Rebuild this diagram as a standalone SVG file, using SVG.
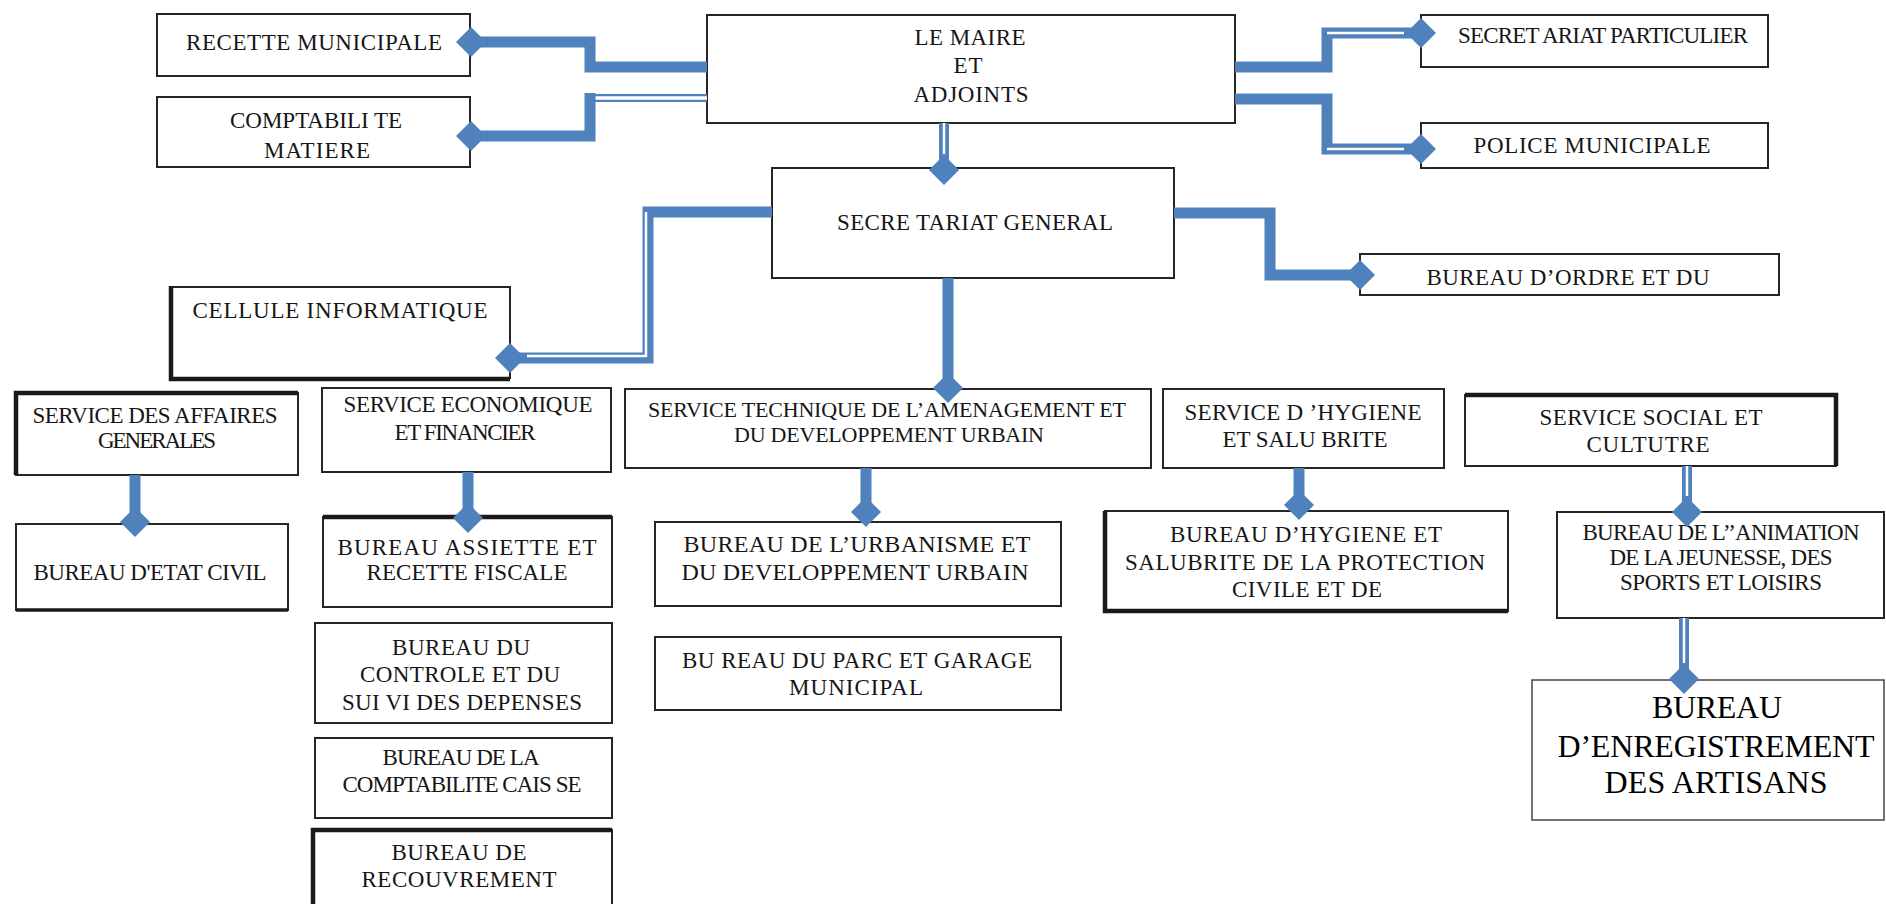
<svg xmlns="http://www.w3.org/2000/svg" width="1886" height="904" viewBox="0 0 1886 904">
<style>
.box{fill:#fff;stroke:#262626;stroke-width:2}
.edge{stroke:#1a1a1a;stroke-width:4.5;fill:none}
.t{font-family:"Liberation Serif","Times New Roman",serif;font-size:23px;fill:#161616;text-anchor:middle;lengthAdjust:spacing}
.big{font-size:32px;fill:#000}
.thick{fill:none;stroke:#4F81BD;stroke-width:11;stroke-linejoin:miter}
.dbl{fill:none;stroke:#4F81BD;stroke-width:10}
.dblw{fill:none;stroke:#fff;stroke-width:2.5}
</style>
<defs>
<marker id="dia" markerUnits="userSpaceOnUse" viewBox="-16 -16 32 32" refX="0" refY="0" markerWidth="32" markerHeight="32" orient="auto">
<path d="M0,-15 L15,0 L0,15 L-15,0 Z" fill="#4F81BD"/>
</marker>
</defs>
<rect width="1886" height="904" fill="#fff"/>

<g id="recette">
<rect class="box" x="157" y="14" width="313" height="62"/>
<text class="t" x="314" y="50" textLength="256">RECETTE MUNICIPALE</text>
</g>
<g id="comptabilite">
<rect class="box" x="157" y="97" width="313" height="70"/>
<text class="t" x="316" y="128" textLength="172">COMPTABILI TE</text>
<text class="t" x="317" y="158" textLength="106">MATIERE</text>
</g>
<g id="maire">
<rect class="box" x="707" y="15" width="528" height="108"/>
<text class="t" x="970" y="45" textLength="111">LE MAIRE</text>
<text class="t" x="968" y="73" textLength="29">ET</text>
<text class="t" x="971" y="102" textLength="115">ADJOINTS</text>
</g>
<g id="secretariat-particulier">
<rect class="box" x="1421" y="15" width="347" height="52"/>
<text class="t" x="1603" y="43" textLength="290">SECRET ARIAT PARTICULIER</text>
</g>
<g id="police">
<rect class="box" x="1421" y="123" width="347" height="45"/>
<text class="t" x="1592" y="153" textLength="237">POLICE MUNICIPALE</text>
</g>
<g id="secretariat-general">
<rect class="box" x="772" y="168" width="402" height="110"/>
<text class="t" x="975" y="230" textLength="276">SECRE TARIAT GENERAL</text>
</g>
<g id="bureau-ordre">
<rect class="box" x="1360" y="254" width="419" height="41"/>
<text class="t" x="1568" y="285" textLength="283">BUREAU D’ORDRE ET DU</text>
</g>
<g id="cellule">
<rect class="box" x="170" y="287" width="340" height="91"/>
<path class="edge" d="M171,286 V379 H510"/>
<text class="t" x="340" y="318" textLength="295">CELLULE INFORMATIQUE</text>
</g>
<g id="affaires-generales">
<rect class="box" x="16" y="393" width="282" height="82"/>
<path class="edge" d="M16,475 V393 H298"/>
<text class="t" x="155" y="423" textLength="245">SERVICE DES AFFAIRES</text>
<text class="t" x="157" y="448" textLength="118">GENERALES</text>
</g>
<g id="economique">
<rect class="box" x="322" y="388" width="289" height="84"/>
<text class="t" x="468" y="412" textLength="249">SERVICE ECONOMIQUE</text>
<text class="t" x="465" y="440" textLength="141">ET FINANCIER</text>
</g>
<g id="technique">
<rect class="box" x="625" y="389" width="526" height="79"/>
<text class="t" style="font-size:22px" x="887" y="417" textLength="478">SERVICE TECHNIQUE DE L’AMENAGEMENT ET</text>
<text class="t" style="font-size:22px" x="889" y="442" textLength="310">DU DEVELOPPEMENT URBAIN</text>
</g>
<g id="hygiene">
<rect class="box" x="1163" y="389" width="281" height="79"/>
<text class="t" x="1303" y="420" textLength="237">SERVICE D ’HYGIENE</text>
<text class="t" x="1305" y="447" textLength="165">ET SALU BRITE</text>
</g>
<g id="social">
<rect class="box" x="1465" y="395" width="371" height="71"/>
<path class="edge" d="M1465,395 H1836 V466"/>
<text class="t" x="1651" y="425" textLength="223">SERVICE SOCIAL ET</text>
<text class="t" x="1648" y="452" textLength="123">CULTUTRE</text>
</g>
<g id="etat-civil">
<rect class="box" x="16" y="524" width="272" height="86"/>
<path class="edge" style="stroke-width:3.5" d="M16,610 H288"/>
<text class="t" x="150" y="580" textLength="233">BUREAU D'ETAT CIVIL</text>
</g>
<g id="assiette">
<rect class="box" x="323" y="517" width="289" height="90"/>
<path class="edge" d="M323,517 H612"/>
<text class="t" x="467" y="555" textLength="259">BUREAU ASSIETTE ET</text>
<text class="t" x="467" y="580" textLength="201">RECETTE FISCALE</text>
</g>
<g id="controle">
<rect class="box" x="315" y="623" width="297" height="100"/>
<text class="t" x="461" y="655" textLength="138">BUREAU DU</text>
<text class="t" x="460" y="682" textLength="200">CONTROLE ET DU</text>
<text class="t" x="462" y="710" textLength="240">SUI VI DES DEPENSES</text>
</g>
<g id="caisse">
<rect class="box" x="315" y="738" width="297" height="80"/>
<text class="t" x="461" y="765" textLength="157">BUREAU DE LA</text>
<text class="t" x="462" y="792" textLength="239">COMPTABILITE CAIS SE</text>
</g>
<g id="recouvrement">
<rect class="box" x="313" y="830" width="299" height="84"/>
<path class="edge" d="M313,908 V830 H612"/>
<text class="t" x="459" y="860" textLength="135">BUREAU DE</text>
<text class="t" x="459" y="887" textLength="195">RECOUVREMENT</text>
</g>
<g id="urbanisme">
<rect class="box" x="655" y="522" width="406" height="84"/>
<text class="t" style="font-size:24px" x="857" y="552" textLength="347">BUREAU DE L’URBANISME ET</text>
<text class="t" style="font-size:24px" x="855" y="580" textLength="347">DU DEVELOPPEMENT URBAIN</text>
</g>
<g id="parc">
<rect class="box" x="655" y="637" width="406" height="73"/>
<text class="t" x="857" y="668" textLength="350">BU REAU DU PARC ET GARAGE</text>
<text class="t" x="856" y="695" textLength="134">MUNICIPAL</text>
</g>
<g id="bureau-hygiene">
<rect class="box" x="1105" y="511" width="403" height="100"/>
<path class="edge" d="M1105,511 V611 H1508"/>
<text class="t" x="1306" y="542" textLength="272">BUREAU D’HYGIENE ET</text>
<text class="t" x="1305" y="570" textLength="360">SALUBRITE DE LA PROTECTION</text>
<text class="t" x="1307" y="597" textLength="150">CIVILE ET DE</text>
</g>
<g id="animation">
<rect class="box" x="1557" y="512" width="327" height="106"/>
<text class="t" x="1721" y="540" textLength="277">BUREAU DE L’’ANIMATION</text>
<text class="t" x="1721" y="565" textLength="223">DE LA JEUNESSE, DES</text>
<text class="t" x="1721" y="590" textLength="202">SPORTS ET LOISIRS</text>
</g>
<g id="enregistrement">
<rect class="box" style="stroke:#444;stroke-width:1.5" x="1532" y="680" width="352" height="140"/>
<text class="t big" x="1717" y="718" textLength="130">BUREAU</text>
<text class="t big" x="1716" y="757" textLength="317">D’ENREGISTREMENT</text>
<text class="t big" x="1716" y="793" textLength="223">DES ARTISANS</text>
</g>

<g id="connectors">
<path class="thick" d="M707,67 H590 V42 H471" marker-end="url(#dia)"/>
<path class="dbl" style="stroke-width:8" d="M707,98 H586"/>
<path class="dblw" style="stroke-width:3.5" d="M707,98 H590"/>
<path class="thick" d="M590,93 V136 H471" marker-end="url(#dia)"/>
<path class="thick" d="M1235,67 H1327 V33 H1421" marker-end="url(#dia)"/>
<path class="dblw" d="M1327,33 H1404"/>
<path class="thick" d="M1235,99 H1327 V149 H1421" marker-end="url(#dia)"/>
<path class="dblw" d="M1327,149 H1404"/>
<path class="dbl" d="M944,123 V170" marker-end="url(#dia)"/>
<path class="dblw" d="M944,123 V154"/>
<path class="thick" d="M1174,213 H1270 V275 H1360" marker-end="url(#dia)"/>
<path class="thick" d="M772,212 H648 V358 H510" marker-end="url(#dia)"/>
<path class="dblw" d="M646,212 V356 H527"/>
<path class="thick" d="M948,278 V388" marker-end="url(#dia)"/>
<path class="thick" d="M135,475 V522" marker-end="url(#dia)"/>
<path class="thick" d="M468,472 V518" marker-end="url(#dia)"/>
<path class="thick" d="M866,468 V512" marker-end="url(#dia)"/>
<path class="thick" d="M1299,468 V505" marker-end="url(#dia)"/>
<path class="dbl" d="M1687,466 V512" marker-end="url(#dia)"/>
<path class="dblw" d="M1687,466 V496"/>
<path class="dbl" d="M1684,618 V679" marker-end="url(#dia)"/>
<path class="dblw" d="M1684,618 V663"/>
</g>
</svg>
